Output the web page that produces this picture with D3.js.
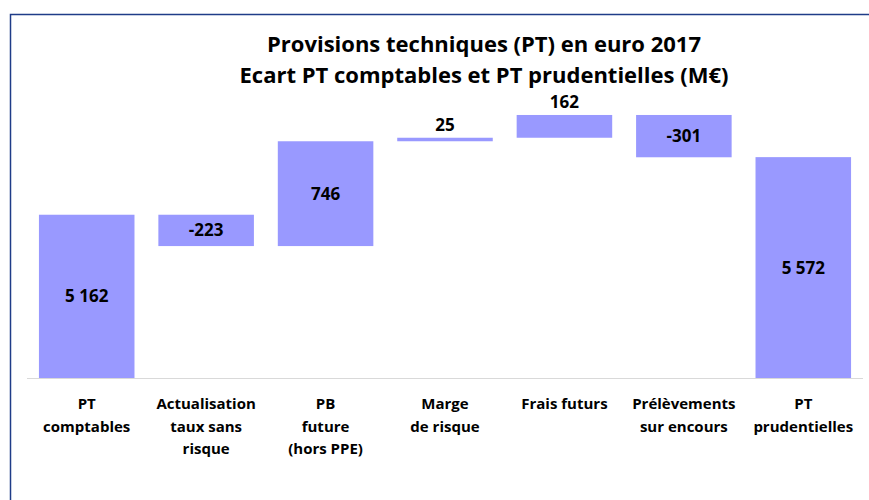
<!DOCTYPE html>
<html>
<head>
<meta charset="utf-8">
<script src="https://cdn.jsdelivr.net/npm/d3@7"></script>
<style>
  body { margin: 0; background: #fff; }
  svg { display: block; font-family: "Open Sans", Lato, sans-serif; }
  .chart-title { font-size: 22px; font-weight: 700; fill: #000; }
  .value-label { font-size: 17px; font-weight: 700; fill: #000; }
  .cat-label { font-size: 15px; font-weight: 700; fill: #000; }
</style>
</head>
<body>
<div id="chart"></div>
<script>
// data
const TITLE_LINES = ["Provisions techniques (PT) en euro 2017", "Ecart PT comptables et PT prudentielles (M€)"];
const CATEGORIES = [
  ["PT", "comptables"],
  ["Actualisation", "taux sans", "risque"],
  ["PB", "future", "(hors PPE)"],
  ["Marge", "de risque"],
  ["Frais futurs"],
  ["Prélèvements", "sur encours"],
  ["PT", "prudentielles"],
];
const VALUES = [5162, -223, 746, 25, 162, -301, 5572];
const IS_TOTAL = [true, false, false, false, false, false, true];
const Y_DOMAIN = [4000, 6000];

const frLocale = d3.formatLocale({ decimal: ",", thousands: " ", grouping: [3], currency: ["", " €"], minus: "-" });
const fmt = frLocale.format(",d");

// build waterfall steps
function buildSteps() {
  let running = 0;
  return VALUES.map((v, i) => {
    let start, end;
    if (IS_TOTAL[i]) {
      start = Y_DOMAIN[0];
      end = v;
      running = v;
    } else {
      start = running;
      end = running + v;
      running = end;
    }
    return { key: i, lines: CATEGORIES[i], value: v, lo: Math.min(start, end), hi: Math.max(start, end) };
  });
}

function drawChart() {
  const outerWidth = 869;
  const outerHeight = 500;
  const steps = buildSteps();

  const svg = d3.select("#chart")
    .append("svg")
    .attr("width", outerWidth)
    .attr("height", outerHeight);

  // frame
  svg.append("rect")
    .attr("x", 10.5)
    .attr("y", 14.5)
    .attr("width", 900)
    .attr("height", 520)
    .attr("fill", "none")
    .attr("stroke", "#1f3c88")
    .attr("stroke-width", 1.5);

  // title
  svg.append("g").selectAll("text")
    .data(TITLE_LINES)
    .join("text")
    .attr("class", "chart-title")
    .attr("x", 484)
    .attr("y", (d, i) => 52 + i * 31)
    .attr("text-anchor", "middle")
    .text((d) => d);

  // scales
  const xScale = d3.scaleBand()
    .domain(steps.map((d) => d.key))
    .range([27, 863])
    .paddingInner(0.2)
    .paddingOuter(0.1);
  const yScale = d3.scaleLinear().domain(Y_DOMAIN).range([378, 97]);

  // bars
  svg.append("g").selectAll("rect")
    .data(steps)
    .join("rect")
    .attr("x", (d) => xScale(d.key))
    .attr("y", (d) => yScale(d.hi))
    .attr("width", xScale.bandwidth())
    .attr("height", (d) => yScale(d.lo) - yScale(d.hi))
    .attr("fill", "#9999ff");

  // axis line
  svg.append("line")
    .attr("x1", 27)
    .attr("x2", 863)
    .attr("y1", yScale(Y_DOMAIN[0]) + 0.5)
    .attr("y2", yScale(Y_DOMAIN[0]) + 0.5)
    .attr("stroke", "#d9d9d9")
    .attr("stroke-width", 1);

  // value labels: inside when the bar is tall enough, else above
  svg.append("g").selectAll("text")
    .data(steps)
    .join("text")
    .attr("class", "value-label")
    .attr("x", (d) => xScale(d.key) + xScale.bandwidth() / 2)
    .attr("y", (d) => {
      const top = yScale(d.hi);
      const h = yScale(d.lo) - top;
      return h < 26 ? top - 7 : top + h / 2 + 6;
    })
    .attr("text-anchor", "middle")
    .text((d) => fmt(d.value));

  // category labels
  const cats = svg.append("g").selectAll("text")
    .data(steps)
    .join("text")
    .attr("class", "cat-label")
    .attr("text-anchor", "middle")
    .attr("x", (d) => xScale(d.key) + xScale.bandwidth() / 2)
    .attr("y", 409);
  cats.selectAll("tspan")
    .data((d) => d.lines.map((line) => ({ line, x: xScale(d.key) + xScale.bandwidth() / 2 })))
    .join("tspan")
    .attr("x", (d) => d.x)
    .attr("dy", (d, i) => (i === 0 ? 0 : 22.5))
    .text((d) => d.line);
}

drawChart();
</script>
</body>
</html>
